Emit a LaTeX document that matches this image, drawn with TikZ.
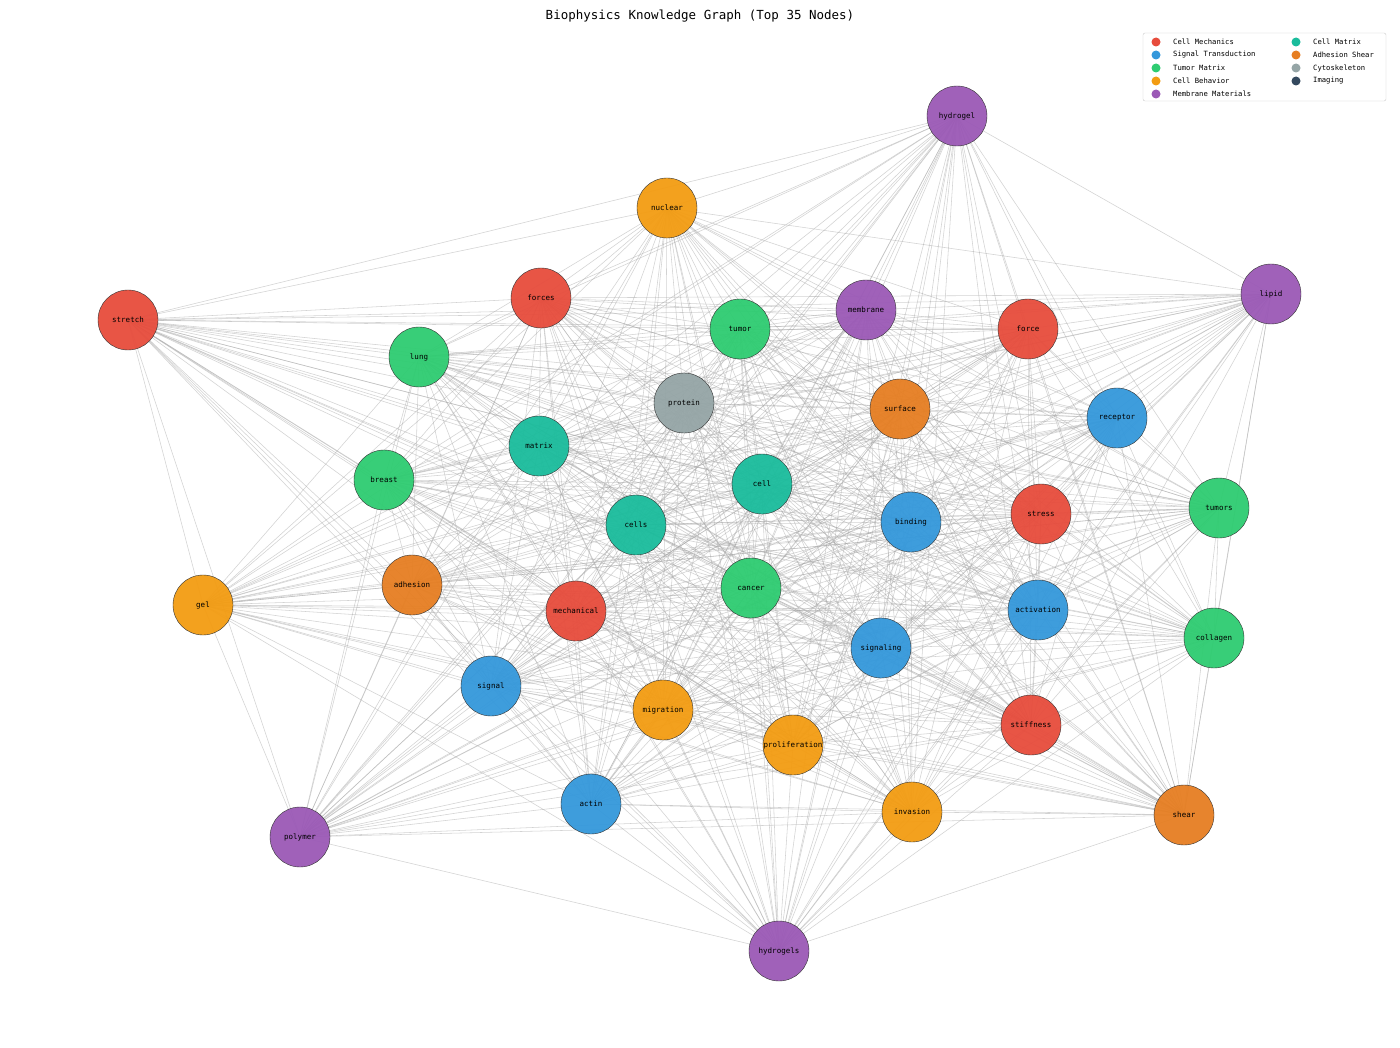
\documentclass[tikz,border=0pt]{standalone}
\usepackage{fontspec}
\setmonofont{DejaVu Sans Mono}
\definecolor{cRed}{HTML}{E74C3C}
\definecolor{cBlue}{HTML}{3498DB}
\definecolor{cGreen}{HTML}{2ECC71}
\definecolor{cYel}{HTML}{F39C12}
\definecolor{cPur}{HTML}{9B59B6}
\definecolor{cTeal}{HTML}{1ABC9C}
\definecolor{cOra}{HTML}{E67E22}
\definecolor{cGrey}{HTML}{95A5A6}
\definecolor{cDark}{HTML}{34495E}
\tikzset{gnode/.style={circle,draw=black!80,line width=0.4pt,minimum size=60pt,inner sep=0pt,font=\ttfamily\fontsize{7.5}{8}\selectfont,fill opacity=0.95,text opacity=1},
edge/.style={gray!70,line width=0.55pt,opacity=0.5},
legtext/.style={anchor=west,font=\ttfamily\fontsize{7.2}{8}\selectfont,inner sep=0pt}}
\def\nodelist{hydrogel/957/116/cPur,nuclear/667/208/cYel,lipid/1271/294/cPur,stretch/128/320/cRed,forces/541/298/cRed,tumor/740/329/cGreen,membrane/866/310/cPur,force/1028/329/cRed,lung/419/357/cGreen,protein/684/403/cGrey,surface/900/409/cOra,receptor/1117/418/cBlue,matrix/539/446/cTeal,breast/384/480/cGreen,cell/762/484/cTeal,tumors/1219/508/cGreen,binding/911/522/cBlue,stress/1041/514/cRed,cells/636/525/cTeal,gel/203/605/cYel,adhesion/412/585/cOra,mechanical/576/611/cRed,cancer/751/588/cGreen,activation/1038/610/cBlue,collagen/1214/638/cGreen,signaling/881/648/cBlue,signal/491/686/cBlue,migration/663/710/cYel,proliferation/793/745/cYel,stiffness/1031/725/cRed,actin/591/804/cBlue,invasion/912/812/cYel,shear/1184/815/cOra,polymer/300/837/cPur,hydrogels/779/951/cPur}
\begin{document}
\begin{tikzpicture}[x=1pt,y=-1pt]
\useasboundingbox[fill=white] (0,0) rectangle (1400,1048);
\node[font=\ttfamily\fontsize{12.5}{14}\selectfont] (title) at (700,16) {Biophysics Knowledge Graph (Top 35 Nodes)};
\foreach \n/\x/\y/\c in \nodelist { \coordinate (\n) at (\x,\y); }
\foreach \a/\ax/\ay/\ac [count=\i] in \nodelist {
  \foreach \b/\bx/\by/\bc [count=\j] in \nodelist {
    \ifnum\j>\i \draw[edge] (\a) -- (\b); \fi
  }
}
\foreach \n/\x/\y/\c in \nodelist { \node[gnode,fill=\c] (n-\n) at (\x,\y) {\n}; }
% legend
\draw[gray!40,fill=white,rounded corners=2pt] (1143,33) rectangle (1386,101);
\foreach \t/\c [count=\k] in {Cell Mechanics/cRed,Signal Transduction/cBlue,Tumor Matrix/cGreen,Cell Behavior/cYel,Membrane Materials/cPur} {
  \fill[\c] (1156,29+13*\k) circle (4.5);
  \node[legtext] (la\k) at (1173,29+13*\k) {\t};
}
\foreach \t/\c [count=\k] in {Cell Matrix/cTeal,Adhesion Shear/cOra,Cytoskeleton/cGrey,Imaging/cDark} {
  \fill[\c] (1296,29+13*\k) circle (4.5);
  \node[legtext] (lb\k) at (1313,29+13*\k) {\t};
}
\end{tikzpicture}
\end{document}
